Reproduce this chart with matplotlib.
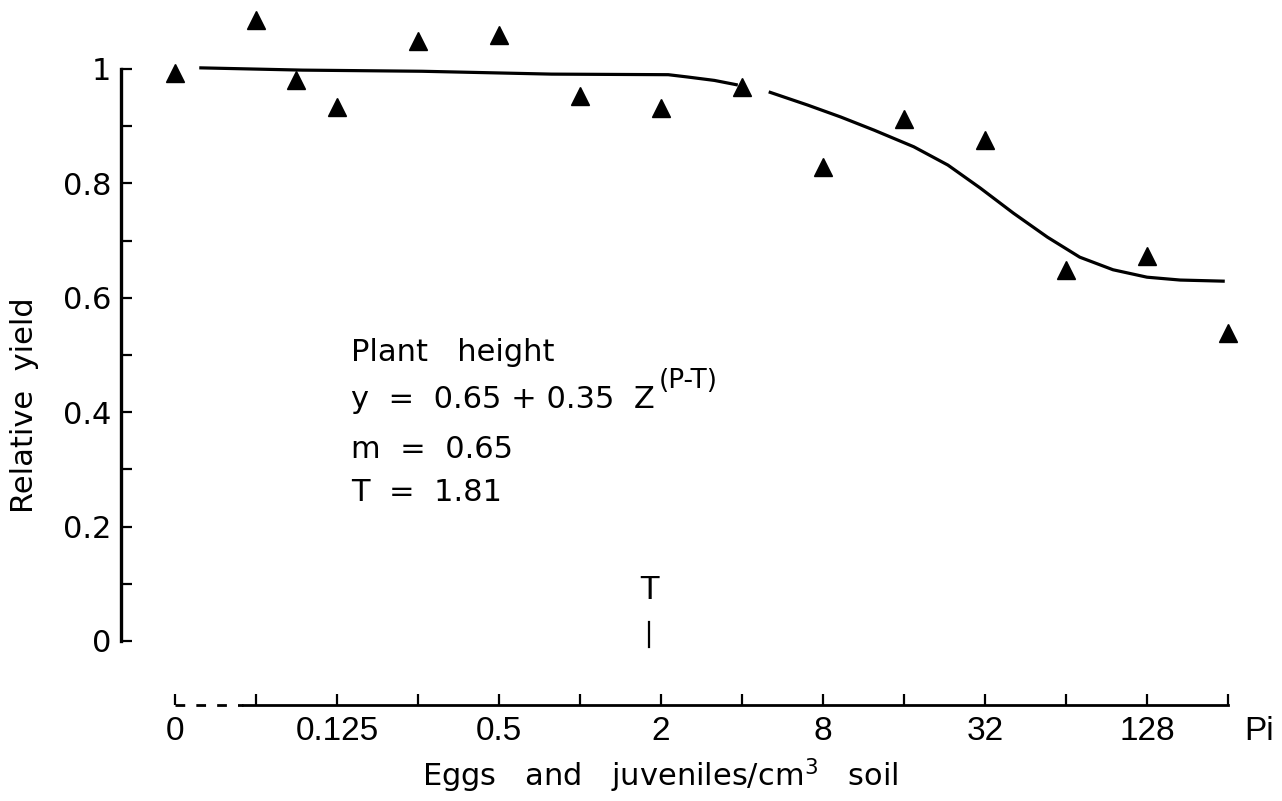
import numpy as np
import matplotlib
matplotlib.use("Agg")
import matplotlib.pyplot as plt
from matplotlib.transforms import blended_transform_factory

plt.rcParams['font.family'] = ['DejaVu Sans']
plt.rcParams['mathtext.fontset'] = 'dejavusans'

# ---- data ----
pi_values = [0, 0.0625, 0.088, 0.125, 0.25, 0.5, 1, 2, 4, 8, 16, 32, 64, 128, 256]
rel_yield = [0.993, 1.086, 0.981, 0.934, 1.049, 1.059, 0.952, 0.932, 0.969,
             0.829, 0.913, 0.876, 0.649, 0.673, 0.538]

curve_pi = [0.0385, 0.093, 0.259, 0.785, 2.13, 2.51, 3.16, 3.86, np.nan,
            5.03, 7.01, 9.32, 12.4, 17.4, 23.3, 30.7, 40.8, 54.6, 72.0, 95.7,
            128, 170, 249]
curve_y = [1.002, 0.998, 0.996, 0.991, 0.990, 0.986, 0.980, 0.972, np.nan,
           0.960, 0.937, 0.916, 0.893, 0.864, 0.832, 0.792, 0.748, 0.706,
           0.671, 0.649, 0.636, 0.631, 0.629]

x_tick_values = [2.0 ** k for k in range(-5, 9)]
x_tick_labels = ['0', '', '0.125', '', '0.5', '', '2', '', '8', '', '32', '', '128', '']
y_major = [0, 0.2, 0.4, 0.6, 0.8, 1.0]
y_major_labels = ['0', '0.2', '0.4', '0.6', '0.8', '1']
y_minor = [0.1, 0.3, 0.5, 0.7, 0.9]
T_value = 1.81
zero_position = 2.0 ** -5   # where the Pi = 0 control is drawn

# ---- figure ----
W, H = 1282, 801
fig = plt.figure(figsize=(W / 100, H / 100), dpi=100)
left_px, right_px, top_px, bottom_px = 121, 1240, 10, 705
ax = fig.add_axes([left_px / W, 1 - bottom_px / H,
                   (right_px - left_px) / W, (bottom_px - top_px) / H])

ax.set_xscale('log', base=2)
ax.set_xlim(2 ** -5.665, 2 ** 8.148)
ax.set_ylim(-0.1119, 1.1031)

px = [zero_position if p == 0 else p for p in pi_values]

ax.plot(curve_pi, curve_y, color='black', lw=2.3, solid_capstyle='butt', zorder=2)
ax.plot(px, rel_yield, linestyle='none', marker='^', color='black',
        markersize=13, zorder=3)

# spines
for s in ['top', 'right']:
    ax.spines[s].set_visible(False)
ax.spines['left'].set_bounds(0, 1)
ax.spines['left'].set_linewidth(2.4)
ax.spines['bottom'].set_bounds(2 ** -4.16, 2 ** 8)
ax.spines['bottom'].set_linewidth(2.0)

# dashed part of x axis (axis break for Pi = 0)
trans = blended_transform_factory(ax.transData, ax.transAxes)
ax.plot([zero_position, 2 ** -4.16], [0, 0], transform=trans, color='black',
        lw=2.0, linestyle=(0, (3.5, 4)), clip_on=False)

# ticks
ax.set_xticks(x_tick_values)
ax.set_xticklabels(x_tick_labels, fontfamily='Liberation Sans', fontsize=24)
ax.xaxis.set_minor_locator(matplotlib.ticker.NullLocator())
ax.set_yticks(y_major)
ax.set_yticklabels(y_major_labels, fontsize=22)
ax.set_yticks(y_minor, minor=True)
ax.tick_params(axis='both', which='both', direction='in', length=8, width=1.6,
               colors='black')
ax.tick_params(axis='y', which='both', pad=7)
ax.tick_params(axis='x', which='both', pad=8)

# axis labels
fig.text(25 / W, 1 - 405 / H, 'Relative  yield', rotation=90, ha='center',
         va='center', fontsize=22)
fig.text(660 / W, 1 - 776 / H, 'Eggs   and   juveniles/cm$^{3}$   soil',
         ha='center', va='center', fontsize=22)
ax.annotate('Pi', xy=(2 ** 8.2, 0), xycoords=trans, xytext=(0, -8),
            textcoords='offset points', ha='left', va='top',
            fontsize=24, fontfamily='Liberation Sans', annotation_clip=False)

# equation block
xs = 2 ** -2.83
ax.text(xs, 0.490, 'Plant   height', fontsize=22, ha='left', va='baseline')
t2 = ax.text(xs, 0.408, 'y  =  0.65 + 0.35  Z', fontsize=22, ha='left',
             va='baseline')
ax.annotate('(P-T)', xy=(1, 1), xycoords=t2, xytext=(3, -7),
            textcoords='offset points', fontsize=19, ha='left', va='bottom')
ax.text(xs, 0.320, 'm  =  0.65', fontsize=22, ha='left', va='baseline')
ax.text(xs, 0.244, 'T  =  1.81', fontsize=22, ha='left', va='baseline')

# threshold marker
ax.text(T_value, 0.089, 'T', fontsize=24, ha='center', va='center',
        fontfamily='Liberation Sans')
ax.plot([T_value, T_value], [-0.01, 0.033], color='black', lw=1.6)

fig.savefig('out.png', dpi=100, facecolor='white')
